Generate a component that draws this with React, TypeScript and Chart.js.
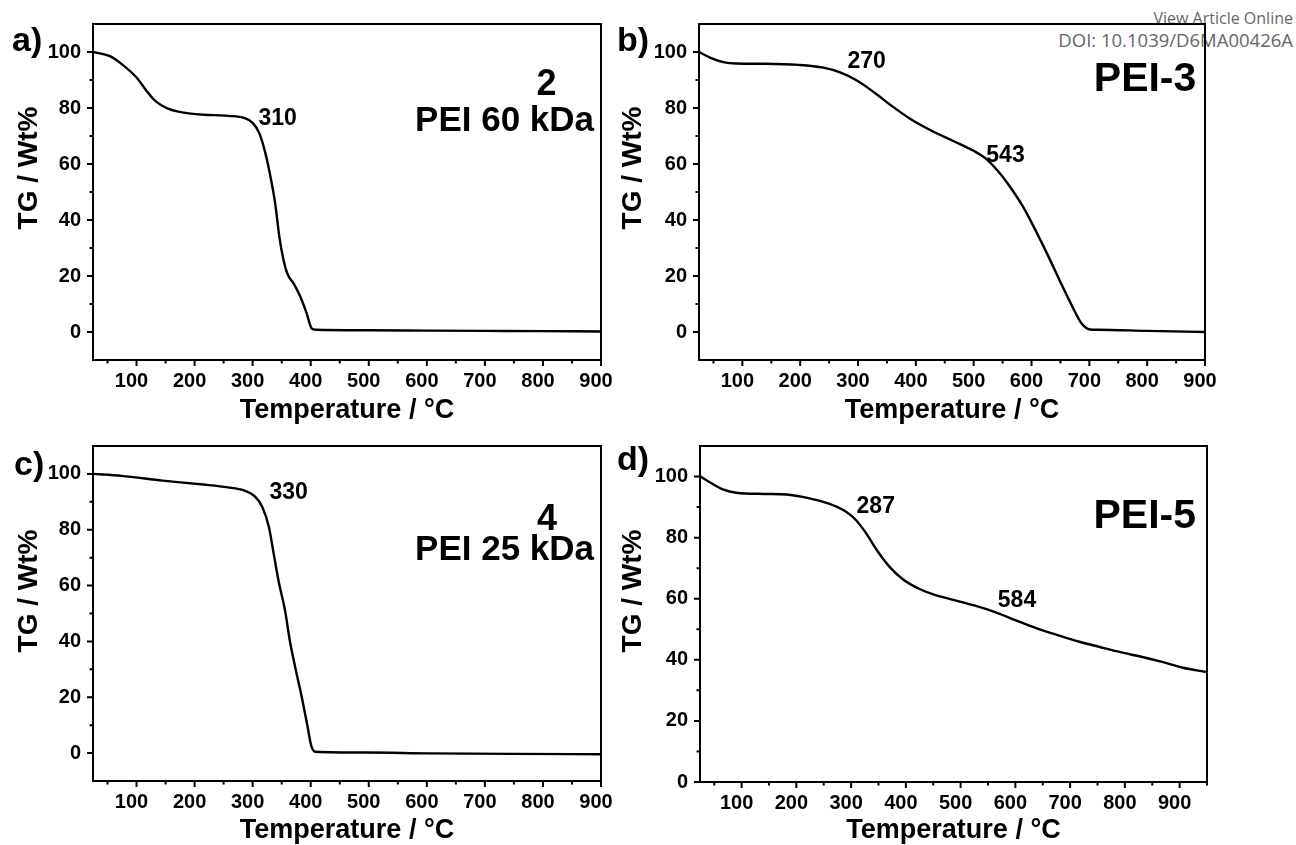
import React, { useEffect, useRef } from 'react';
import { Chart, registerables } from 'chart.js';

Chart.register(...registerables);

const FONT = "'Liberation Sans', Arial, Helvetica, sans-serif";

// ---------------- data ----------------
// a) compound 2 / PEI 60 kDa
const tempA = [25, 54, 75, 100, 117, 128, 140, 153, 170, 190, 216, 258, 286, 300, 311, 320, 329, 339, 346, 353, 360, 371, 381, 392, 402, 409, 500, 600, 700, 800, 900];
const tgA = [100, 98.5, 95.6, 90.9, 86.2, 83.4, 81.3, 79.9, 78.8, 78.1, 77.6, 77.2, 76.4, 74.7, 71.2, 65.4, 57.2, 45.6, 34, 25.9, 20.7, 17.2, 13.1, 7.3, 1.2, 0.8, 0.6, 0.5, 0.4, 0.3, 0.2];

// b) PEI-3
const tempB = [25, 45, 67, 89, 139, 197, 240, 269, 298, 327, 356, 392, 428, 464, 499, 521, 543, 564, 586, 607, 629, 650, 672, 686, 701, 715, 800, 900];
const tgB = [100, 97.9, 96.4, 95.9, 95.8, 95.4, 94.4, 92.7, 89.8, 85.7, 81.1, 75.9, 71.8, 68.3, 64.8, 61.9, 57.2, 51.5, 44.5, 36.3, 27.1, 17.8, 8.5, 3.2, 0.9, 0.8, 0.4, 0];

// c) compound 4 / PEI 25 kDa
const tempC = [25, 74, 145, 215, 257, 285, 303, 317, 328, 336, 345, 356, 364, 373, 384, 394, 401, 408, 496, 602, 750, 900];
const tgC = [100, 99.3, 97.6, 96.2, 95.2, 94.1, 92.1, 88.0, 81.0, 71.7, 61.3, 50.8, 40.3, 31.0, 20.6, 10.1, 2.6, 0.5, 0.2, -0.1, -0.3, -0.4];

// d) PEI-5
const tempD = [25, 44, 67, 90, 143, 182, 220, 258, 288, 307, 326, 349, 372, 395, 426, 449, 487, 525, 563, 601, 639, 677, 715, 754, 792, 830, 868, 906, 948];
const tgD = [100, 97.9, 95.7, 94.7, 94.3, 94.1, 93.0, 91.2, 88.8, 86.1, 81.8, 75.4, 70.1, 66.3, 63.1, 61.5, 59.6, 57.8, 55.6, 52.9, 50.3, 48.1, 46.0, 44.2, 42.5, 41.0, 39.3, 37.4, 36.0];

// annotation texts
const onsetA = ['310'];
const onsetB = ['270', '543'];
const onsetC = ['330'];
const onsetD = ['287', '584'];
const sampleA = ['2', 'PEI 60 kDa'];
const sampleB = ['PEI-3'];
const sampleC = ['4', 'PEI 25 kDa'];
const sampleD = ['PEI-5'];
const panelLetters = ['a)', 'b)', 'c)', 'd)'];
const xTitleText = 'Temperature / \u00B0C';
const yTitleText = 'TG / Wt%';
const watermarkLines = ['View Article Online', 'DOI: 10.1039/D6MA00426A'];
const xLabelStep = 100;
const yLabelStep = 20;

type Note = { text: string; x: number; y: number; size: number; align: CanvasTextAlign };

type Spec = {
  key: string;
  left: number; top: number; w: number; h: number;
  area: { left: number; top: number; right: number; bottom: number };
  xMin: number; xMax: number; yMin: number; yMax: number;
  temps: number[]; tg: number[];
  letter: { text: string; x: number; y: number };
  yTitle: { x: number; y: number };
  xTitlePad: number;
  notes: Note[];
};

// note x/y are the data coordinates of the centre of the text's capitals
const panels: Spec[] = [
  {
    key: 'a', left: 0, top: 0, w: 650, h: 430,
    area: { left: 93, top: 16, right: 601, bottom: 360 },
    xMin: 25, xMax: 900, yMin: -10, yMax: 110,
    temps: tempA, tg: tgA,
    letter: { text: panelLetters[0], x: 12, y: 42 },
    yTitle: { x: 29, y: 168 }, xTitlePad: 6,
    notes: [
      { text: onsetA[0], x: 343, y: 76.7, size: 23, align: 'center' },
      { text: sampleA[0], x: 806, y: 89.2, size: 36, align: 'center' },
      { text: sampleA[1], x: 888, y: 76.3, size: 35, align: 'right' },
    ],
  },
  {
    key: 'b', left: 605, top: 0, w: 691, h: 430,
    area: { left: 94, top: 16, right: 600, bottom: 360 },
    xMin: 25, xMax: 900, yMin: -10, yMax: 110,
    temps: tempB, tg: tgB,
    letter: { text: panelLetters[1], x: 12, y: 42 },
    yTitle: { x: 28, y: 168 }, xTitlePad: 6,
    notes: [
      { text: onsetB[0], x: 315, y: 97.3, size: 23, align: 'center' },
      { text: onsetB[1], x: 555, y: 63.8, size: 23, align: 'center' },
      { text: sampleB[0], x: 885, y: 91.4, size: 41, align: 'right' },
    ],
  },
  {
    key: 'c', left: 0, top: 422, w: 650, h: 423,
    area: { left: 93, top: 15, right: 601, bottom: 359 },
    xMin: 25, xMax: 900, yMin: -10, yMax: 110,
    temps: tempC, tg: tgC,
    letter: { text: panelLetters[2], x: 14, y: 44 },
    yTitle: { x: 29, y: 169 }, xTitlePad: 1,
    notes: [
      { text: onsetC[0], x: 362, y: 94.0, size: 23, align: 'center' },
      { text: sampleC[0], x: 807, y: 84.5, size: 36, align: 'center' },
      { text: sampleC[1], x: 888, y: 73.7, size: 35, align: 'right' },
    ],
  },
  {
    key: 'd', left: 605, top: 422, w: 691, h: 423,
    area: { left: 95, top: 16, right: 602, bottom: 360 },
    xMin: 24, xMax: 950, yMin: 0, yMax: 110,
    temps: tempD, tg: tgD,
    letter: { text: panelLetters[3], x: 12, y: 39 },
    yTitle: { x: 28, y: 169 }, xTitlePad: 1,
    notes: [
      { text: onsetD[0], x: 345, y: 90.7, size: 23, align: 'center' },
      { text: onsetD[1], x: 603, y: 59.9, size: 23, align: 'center' },
      { text: sampleD[0], x: 930, y: 88.1, size: 41, align: 'right' },
    ],
  },
];

function makeDeco(spec: Spec) {
  return {
    id: 'deco' + spec.key,
    afterDraw(chart: any) {
      const { ctx, chartArea: ca } = chart;
      const xs = chart.scales.x;
      const ys = chart.scales.y;
      ctx.save();
      ctx.strokeStyle = '#000';
      ctx.lineWidth = 2;
      ctx.strokeRect(ca.left, ca.top, ca.right - ca.left, ca.bottom - ca.top);
      // tick marks (major labelled + minor)
      ctx.beginPath();
      xs.ticks.forEach((t: any) => {
        const px = xs.getPixelForValue(t.value);
        const len = t.value % xLabelStep === 0 ? 6 : 3.5;
        ctx.moveTo(px, ca.bottom);
        ctx.lineTo(px, ca.bottom + len);
      });
      ys.ticks.forEach((t: any) => {
        const major = t.value % yLabelStep === 0 && t.value >= 0 && t.value <= 100;
        if (!major && (t.value === spec.yMin || t.value === spec.yMax)) return;
        const py = ys.getPixelForValue(t.value);
        const len = major ? 6 : 3.5;
        ctx.moveTo(ca.left, py);
        ctx.lineTo(ca.left - len, py);
      });
      ctx.stroke();

      ctx.fillStyle = '#000';
      ctx.textBaseline = 'alphabetic';
      // annotations in data coordinates (y = centre of capitals)
      spec.notes.forEach((n) => {
        ctx.font = `bold ${n.size}px ${FONT}`;
        ctx.textAlign = n.align;
        ctx.fillText(n.text, xs.getPixelForValue(n.x), ys.getPixelForValue(n.y) + 0.358 * n.size);
      });
      // panel letter
      ctx.textBaseline = 'middle';
      ctx.font = `bold 34px ${FONT}`;
      ctx.textAlign = 'left';
      ctx.fillText(spec.letter.text, spec.letter.x, spec.letter.y);
      // y axis title
      ctx.font = `bold 28px ${FONT}`;
      ctx.textAlign = 'center';
      ctx.translate(spec.yTitle.x, spec.yTitle.y);
      ctx.rotate(-Math.PI / 2);
      ctx.fillText(yTitleText, 0, 0);
      ctx.restore();
    },
  };
}

function Panel({ spec }: { spec: Spec }) {
  const ref = useRef<HTMLCanvasElement>(null);
  useEffect(() => {
    const canvas = ref.current;
    if (!canvas) return;
    const tickFont = { family: FONT, size: 20, weight: 'bold' as const, lineHeight: 1.2 };
    const chart = new Chart(canvas, {
      type: 'line',
      data: {
        datasets: [
          {
            data: spec.temps.map((t, i) => ({ x: t, y: spec.tg[i] })),
            borderColor: '#000',
            borderWidth: 2.4,
            pointRadius: 0,
            cubicInterpolationMode: 'monotone',
            fill: false,
          },
        ],
      },
      options: {
        responsive: false,
        animation: false,
        devicePixelRatio: 1,
        events: [],
        layout: {
          padding: { left: 0, top: spec.area.top, right: spec.w - spec.area.right, bottom: 0 },
        },
        plugins: { legend: { display: false }, tooltip: { enabled: false }, title: { display: false } },
        scales: {
          x: {
            type: 'linear',
            min: spec.xMin,
            max: spec.xMax,
            afterFit: (s: any) => { s.height = spec.h - spec.area.bottom; },
            grid: { display: false, drawTicks: false },
            border: { display: false },
            ticks: {
              stepSize: 50,
              includeBounds: false,
              autoSkip: false,
              maxRotation: 0,
              minRotation: 0,
              padding: 9,
              labelOffset: -5,
              color: '#000',
              font: tickFont,
              callback: (v: any) => (Number(v) % xLabelStep === 0 ? String(v) : ''),
            },
            title: {
              display: true,
              text: xTitleText,
              color: '#000',
              font: { family: FONT, size: 27, weight: 'bold', lineHeight: 1 },
              padding: { top: 0, bottom: spec.xTitlePad },
            },
          },
          y: {
            type: 'linear',
            min: spec.yMin,
            max: spec.yMax,
            afterFit: (s: any) => { s.width = spec.area.left; },
            grid: { display: false, drawTicks: false },
            border: { display: false },
            ticks: {
              stepSize: 10,
              autoSkip: false,
              padding: 12,
              color: '#000',
              font: tickFont,
              callback: (v: any) => {
                const n = Number(v);
                return n % yLabelStep === 0 && n >= 0 && n <= 100 ? String(n) : '';
              },
            },
          },
        },
      } as any,
      plugins: [makeDeco(spec)],
    });
    return () => chart.destroy();
  }, [spec]);
  return (
    <canvas
      ref={ref}
      width={spec.w}
      height={spec.h}
      style={{ position: 'absolute', left: spec.left, top: spec.top, width: spec.w, height: spec.h }}
    />
  );
}

export default function App() {
  return (
    <div
      style={{
        position: 'absolute', left: 0, top: 0, width: 1296, height: 845,
        background: '#fff', overflow: 'hidden',
      }}
    >
      <div
        style={{
          position: 'absolute', right: 3, top: 8, textAlign: 'right',
          fontFamily: "'Open Sans', sans-serif", lineHeight: '21px', color: '#666',
        }}
      >
        <div style={{ fontSize: 16 }}>{watermarkLines[0]}</div>
        <div style={{ fontSize: 18.5 }}>{watermarkLines[1]}</div>
      </div>
      {panels.map((p) => (
        <Panel key={p.key} spec={p} />
      ))}
    </div>
  );
}
